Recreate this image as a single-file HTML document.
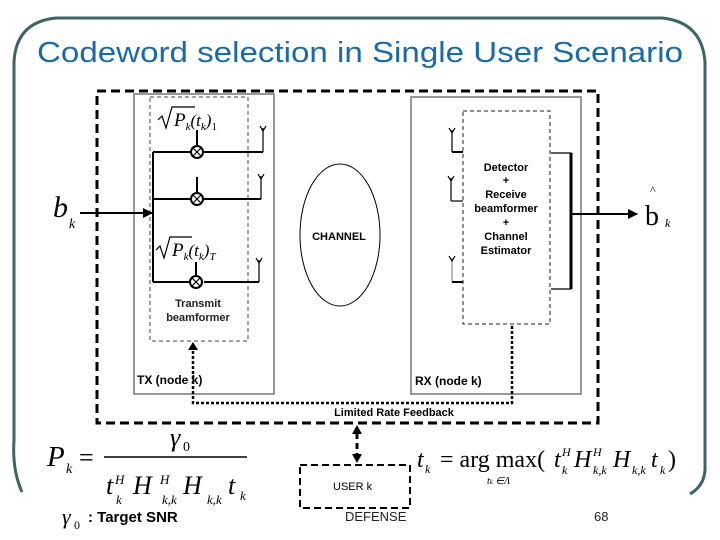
<!DOCTYPE html>
<html><head><meta charset="utf-8"><style>
html,body{margin:0;padding:0;background:#fff;width:720px;height:540px;overflow:hidden}
svg{display:block}
.b{font-family:"Liberation Sans",sans-serif;font-weight:bold}
.s{font-family:"Liberation Serif",serif}
</style></head><body>
<svg width="720" height="540" viewBox="0 0 720 540" xmlns="http://www.w3.org/2000/svg">
<defs>
<marker id="ah" markerWidth="10" markerHeight="10" refX="9" refY="5" orient="auto" markerUnits="userSpaceOnUse"><path d="M0,0 L10,5 L0,10 z" fill="#000"/></marker>
</defs>
<!-- slide frame -->
<path d="M22,492 Q12,470 14,440 L14,62 Q16,22 56,18 L662,18 Q702,22 705,62 L705,470 Q704,486 690,494" fill="none" stroke="#3d6565" stroke-width="3"/>
<text x="37" y="62" font-family="'Liberation Sans',sans-serif" font-size="29" fill="#1a6aa8" textLength="646" lengthAdjust="spacingAndGlyphs">Codeword selection in Single User Scenario</text>

<!-- outer dashed box -->
<rect x="97" y="91" width="501" height="332" fill="none" stroke="#000" stroke-width="3" stroke-dasharray="9,5"/>
<!-- TX -->
<rect x="134" y="94" width="140" height="300" fill="none" stroke="#777" stroke-width="1.5"/>
<rect x="150" y="97" width="98" height="244" fill="none" stroke="#444" stroke-width="1" stroke-dasharray="4,3"/>
<!-- input -->
<text x="53" y="217" class="s" font-style="italic" font-size="30">b</text>
<text x="69" y="228" class="s" font-style="italic" font-size="14">k</text>
<line x1="80" y1="213" x2="152" y2="213" stroke="#000" stroke-width="2" marker-end="url(#ah)"/>
<line x1="153" y1="152" x2="153" y2="282" stroke="#000" stroke-width="2"/>
<g stroke="#000" stroke-width="2" fill="#fff">
<line x1="153" y1="152" x2="190" y2="152"/><line x1="153" y1="199" x2="190" y2="199"/><line x1="153" y1="282" x2="190" y2="282"/>
<line x1="204" y1="152" x2="263" y2="152"/><line x1="204" y1="199" x2="261" y2="199"/><line x1="204" y1="282" x2="259" y2="282"/>
<line x1="197" y1="130" x2="197" y2="145"/><line x1="197" y1="177" x2="197" y2="192"/><line x1="196" y1="262" x2="196" y2="275"/>
<circle cx="197" cy="152" r="6"/><circle cx="197" cy="199" r="6"/><circle cx="196" cy="282" r="6"/>
</g>
<g stroke="#000" stroke-width="1.2">
<line x1="193" y1="148" x2="201" y2="156"/><line x1="201" y1="148" x2="193" y2="156"/>
<line x1="193" y1="195" x2="201" y2="203"/><line x1="201" y1="195" x2="193" y2="203"/>
<line x1="192" y1="278" x2="200" y2="286"/><line x1="200" y1="278" x2="192" y2="286"/>
<line x1="263" y1="152" x2="263" y2="128"/><line x1="261" y1="199" x2="261" y2="176"/><line x1="259" y1="282" x2="259" y2="260"/>
<path d="M260,126 L263,131 L266,126 M258,174 L261,179 L264,174 M256,258 L259,263 L262,258" fill="none"/>
</g>
<path d="M158,120 L162,116 L166,128 L172,107 L195,107" fill="none" stroke="#000" stroke-width="1.2"/>
<text x="174" y="126" class="s" font-style="italic" font-size="19">P<tspan font-size="11" dy="4">k</tspan><tspan dy="-4" font-size="17">(t</tspan><tspan font-size="11" dy="4">k</tspan><tspan dy="-4" font-size="17">)</tspan><tspan font-size="11" dy="4" font-style="normal">1</tspan></text>
<path d="M156,250 L160,246 L164,258 L170,237 L192,237" fill="none" stroke="#000" stroke-width="1.2"/>
<text x="172" y="256" class="s" font-style="italic" font-size="19">P<tspan font-size="11" dy="4">k</tspan><tspan dy="-4" font-size="17">(t</tspan><tspan font-size="11" dy="4">k</tspan><tspan dy="-4" font-size="17">)</tspan><tspan font-size="11" dy="4">T</tspan></text>
<text x="198" y="307" class="b" font-size="11" text-anchor="middle" fill="#222">Transmit</text>
<text x="198" y="321" class="b" font-size="11" text-anchor="middle" fill="#222">beamformer</text>
<text x="137" y="384" class="b" font-size="12">TX (node k)</text>

<!-- channel -->
<ellipse cx="340" cy="235" rx="40" ry="71" fill="none" stroke="#000" stroke-width="1"/>
<text x="339" y="240" class="b" font-size="11" text-anchor="middle">CHANNEL</text>

<!-- RX -->
<rect x="411" y="97" width="170" height="297" fill="none" stroke="#777" stroke-width="1.5"/>
<rect x="463" y="111" width="87" height="213" fill="none" stroke="#222" stroke-width="1" stroke-dasharray="4,3"/>
<g stroke="#000" stroke-width="1.2" fill="none">
<line x1="452" y1="130" x2="452" y2="152"/><line x1="452" y1="152" x2="463" y2="152" stroke-width="2"/>
<line x1="451" y1="178" x2="451" y2="201"/><line x1="451" y1="201" x2="463" y2="201"/>
<line x1="452" y1="258" x2="452" y2="282" stroke="#888"/><line x1="452" y1="282" x2="463" y2="282" stroke-width="2"/>
<path d="M449,128 L452,133 L455,128 M448,176 L451,181 L454,176 M449,256 L452,261 L455,256"/>
<path d="M551,153 L571,153 L571,289 L551,289"/>
</g>
<line x1="571" y1="153" x2="571" y2="289" stroke="#000" stroke-width="3"/>
<line x1="571" y1="214" x2="637" y2="214" stroke="#000" stroke-width="2" marker-end="url(#ah)"/>
<text x="506" y="171" class="b" font-size="11" text-anchor="middle">Detector</text>
<text x="506" y="184" class="b" font-size="11" text-anchor="middle">+</text>
<text x="506" y="198" class="b" font-size="11" text-anchor="middle">Receive</text>
<text x="506" y="212" class="b" font-size="11" text-anchor="middle">beamformer</text>
<text x="506" y="226" class="b" font-size="11" text-anchor="middle">+</text>
<text x="506" y="240" class="b" font-size="11" text-anchor="middle">Channel</text>
<text x="506" y="254" class="b" font-size="11" text-anchor="middle">Estimator</text>
<text x="415" y="385" class="b" font-size="12">RX (node k)</text>
<text x="645" y="225" class="s" font-size="28">b</text>
<text x="650" y="194" class="s" font-size="12">^</text>
<text x="665" y="227" class="s" font-style="italic" font-size="12">k</text>

<!-- feedback -->
<path d="M193,346 L193,403 L512,403 L512,324" fill="none" stroke="#000" stroke-width="2.5" stroke-dasharray="3,2"/>
<path d="M188,350 L193,342 L198,350 z" fill="#000"/>
<text x="394" y="416" class="b" font-size="11" text-anchor="middle">Limited Rate Feedback</text>
<line x1="357" y1="433" x2="357" y2="455" stroke="#000" stroke-width="3" stroke-dasharray="6,4"/>
<path d="M352,434 L357,425 L362,434 z M352,454 L357,463 L362,454 z" fill="#000"/>
<rect x="300" y="465" width="110" height="43" fill="none" stroke="#000" stroke-width="2" stroke-dasharray="7,4"/>
<text x="333" y="490" font-family="'Liberation Sans',sans-serif" font-size="11">USER k</text>

<!-- equations -->
<g class="s" font-style="italic">
<text x="47" y="466" font-size="29">P</text><text x="66" y="473" font-size="14">k</text>
<text x="79" y="466" font-size="26" font-style="normal">=</text>
<line x1="104" y1="457" x2="247" y2="457" stroke="#000" stroke-width="1.5"/>
<text x="170" y="446" font-size="26">γ</text><text x="183" y="451" font-size="14" font-style="normal">0</text>
<text x="106" y="494" font-size="26">t</text><text x="116" y="504" font-size="13">k</text><text x="115" y="484" font-size="13">H</text>
<text x="133" y="494" font-size="26">H</text><text x="162" y="504" font-size="13">k,k</text><text x="160" y="484" font-size="13">H</text>
<text x="183" y="494" font-size="26">H</text><text x="207" y="504" font-size="13">k,k</text>
<text x="228" y="494" font-size="26">t</text><text x="240" y="500" font-size="13">k</text>
<text x="417" y="467" font-size="24">t</text><text x="425" y="473" font-size="12">k</text>
<text x="440" y="467" font-size="24" font-style="normal">= arg max(</text>
<text x="554" y="467" font-size="24">t</text><text x="562" y="474" font-size="12">k</text><text x="562" y="456" font-size="12">H</text>
<text x="574" y="467" font-size="24">H</text><text x="593" y="474" font-size="12">k,k</text><text x="593" y="456" font-size="12">H</text>
<text x="613" y="467" font-size="24">H</text><text x="632" y="474" font-size="12">k,k</text>
<text x="651" y="467" font-size="24">t</text><text x="660" y="474" font-size="12">k</text>
<text x="668" y="467" font-size="24" font-style="normal">)</text>
<text x="487" y="484" font-size="10">t<tspan font-size="7">k</tspan> ∈Λ</text>
<text x="62" y="524" font-size="22">γ</text><text x="74" y="529" font-size="12" font-style="normal">0</text>
</g>
<text x="88" y="522" font-family="'Liberation Sans',sans-serif" font-weight="bold" font-size="15">: Target SNR</text>
<text x="345" y="521" font-family="'Liberation Sans',sans-serif" font-size="13" fill="#222">DEFENSE</text>
<text x="594" y="521" font-family="'Liberation Sans',sans-serif" font-size="13" fill="#222">68</text>
</svg>
</body></html>
